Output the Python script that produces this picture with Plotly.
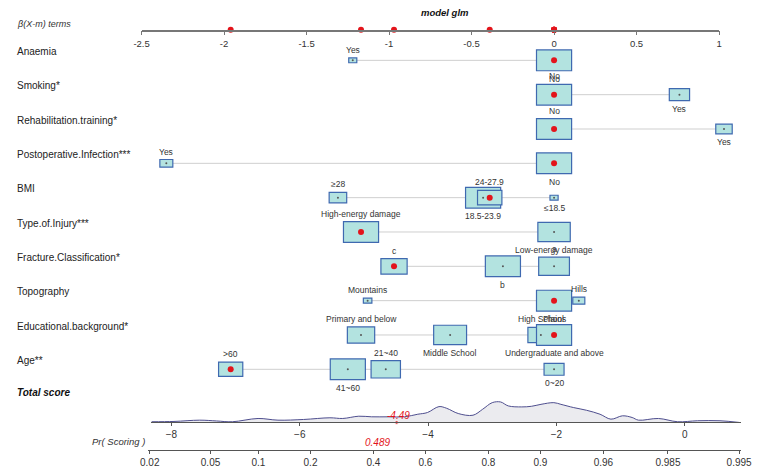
import numpy as np
import plotly.graph_objects as go

# ---- data ----
variables = ["Anaemia", "Smoking*", "Rehabilitation.training*", "Postoperative.Infection***",
             "BMI", "Type.of.Injury***", "Fracture.Classification*", "Topography",
             "Educational.background*", "Age**"]

anaemia_levels = ["Yes", "No"]
anaemia_beta = [-1.22, 0.0]
anaemia_freq = [0.05, 0.95]

smoking_levels = ["No", "Yes"]
smoking_beta = [0.0, 0.76]
smoking_freq = [0.75, 0.25]

rehab_levels = ["No", "Yes"]
rehab_beta = [0.0, 1.03]
rehab_freq = [0.82, 0.18]

infection_levels = ["Yes", "No"]
infection_beta = [-2.35, 0.0]
infection_freq = [0.12, 0.88]

bmi_levels = ["≥28", "18.5-23.9", "24-27.9", "≤18.5"]
bmi_beta = [-1.31, -0.43, -0.39, 0.0]
bmi_freq = [0.14, 0.56, 0.27, 0.03]

injury_levels = ["High-energy damage", "Low-energy damage"]
injury_beta = [-1.17, 0.0]
injury_freq = [0.54, 0.46]

fracture_levels = ["c", "b", "a"]
fracture_beta = [-0.97, -0.31, 0.0]
fracture_freq = [0.24, 0.43, 0.33]

topo_levels = ["Mountains", "Plains", "Hills"]
topo_beta = [-1.13, 0.0, 0.15]
topo_freq = [0.05, 0.85, 0.10]

edu_levels = ["Primary and below", "Middle School", "High School", "Undergraduate and above"]
edu_beta = [-1.17, -0.63, -0.08, 0.0]
edu_freq = [0.20, 0.29, 0.18, 0.33]

age_levels = [">60", "41~60", "21~40", "0~20"]
age_beta = [-1.96, -1.25, -1.02, 0.0]
age_freq = [0.19, 0.40, 0.28, 0.13]

# observation highlighted in red
observed = ["No", "No", "No", "No", "24-27.9", "High-energy damage", "c", "Plains",
            "Undergraduate and above", ">60"]
intercept = 4.446

beta_ticks = [-2.5, -2, -1.5, -1, -0.5, 0, 0.5, 1]
score_ticks = [-8, -6, -4, -2, 0]
prob_ticks = [0.02, 0.05, 0.1, 0.2, 0.4, 0.6, 0.8, 0.9, 0.96, 0.985, 0.995]

density_score = [-8.31, -7.96, -7.56, -7.3, -7.05, -6.65, -6.34, -5.94, -5.53, -5.33, -5.08,
                 -4.88, -4.62, -4.37, -4.16, -4.01, -3.83, -3.71, -3.53, -3.3, -3.15, -3.0,
                 -2.87, -2.75, -2.54, -2.39, -2.24, -2.04, -1.93, -1.73, -1.53, -1.32, -1.15,
                 -0.97, -0.82, -0.72, -0.41, -0.11, 0.2, 0.55, 0.85]
density_value = [0.7, 1.0, 2.3, 1.5, 0.7, 4.0, 2.3, 3.0, 4.7, 4.0, 6.3,
                 5.7, 5.7, 5.7, 8.3, 10.0, 16.0, 14.3, 9.0, 7.3, 13.3, 20.0,
                 20.7, 16.7, 15.7, 16.3, 18.3, 20.0, 18.3, 15.0, 12.3, 8.3, 3.3,
                 6.7, 5.0, 2.3, 4.0, 0.7, 1.7, 1.7, 0.0]

rows = [(anaemia_levels, anaemia_beta, anaemia_freq),
        (smoking_levels, smoking_beta, smoking_freq),
        (rehab_levels, rehab_beta, rehab_freq),
        (infection_levels, infection_beta, infection_freq),
        (bmi_levels, bmi_beta, bmi_freq),
        (injury_levels, injury_beta, injury_freq),
        (fracture_levels, fracture_beta, fracture_freq),
        (topo_levels, topo_beta, topo_freq),
        (edu_levels, edu_beta, edu_freq),
        (age_levels, age_beta, age_freq)]

# ---- layout constants (pixels) ----
W, H = 763, 468
FONT = "Liberation Sans, Arial, sans-serif"
NARROW = "Liberation Sans Narrow, Arial Narrow, Liberation Sans, sans-serif"
RED = "#e3141b"
beta0_px, px_per_beta = 560, 169.2
row_y0, row_gap = 61, 34.7
top_axis_y = 30
score_axis_y, prob_axis_y = 427, 455
score_px = (147, 752)
prob_px = (144, 752)
score0_px, px_per_score = 694, 65.8
box_w, box_h = 36, 21

fig = go.Figure()
shapes = []
annotations = []

obs_betas = []
for i, (levels, betas, freqs) in enumerate(rows):
    y = row_y0 + i * row_gap
    fmax = max(freqs)
    shapes.append(dict(type="line", xref="x", yref="y", x0=min(betas), x1=max(betas), y0=y, y1=y,
                       line=dict(color="#cfcfcf", width=1), layer="below"))
    order = np.argsort(betas, kind="stable")
    for k, j in enumerate(order):
        s = np.sqrt(freqs[j] / fmax)
        hw = box_w * s / 2 / px_per_beta
        hh = box_h * s / 2
        shapes.append(dict(type="rect", xref="x", yref="y", x0=betas[j] - hw, x1=betas[j] + hw,
                           y0=y - hh, y1=y + hh, fillcolor="#b3e3e0",
                           line=dict(color="#3f69b0", width=1.2), layer="below"))
        above = (k % 2 == 0)
        annotations.append(dict(x=betas[j], y=(y - hh - 1) if above else (y + hh + 1),
                                xref="x", yref="y", text=levels[j], showarrow=False,
                                yanchor="bottom" if above else "top",
                                font=dict(size=8.5, color="#333333", family=FONT)))
    fig.add_trace(go.Scatter(x=betas, y=[y] * len(betas), mode="markers",
                             marker=dict(size=2, color="#555555"), xaxis="x", yaxis="y",
                             hoverinfo="skip", showlegend=False))
    ob = betas[levels.index(observed[i])]
    obs_betas.append(ob)
    fig.add_trace(go.Scatter(x=[ob], y=[y], mode="markers",
                             marker=dict(size=6, color=RED), xaxis="x", yaxis="y",
                             hoverinfo="skip", showlegend=False))
    annotations.append(dict(x=7 / W, y=y - 9, xref="paper", yref="y", text=variables[i],
                            showarrow=False, xanchor="left",
                            font=dict(size=10, color="#222222", family=FONT)))

# red dots on the beta axis
fig.add_trace(go.Scatter(x=obs_betas, y=[0] * len(obs_betas), mode="markers", cliponaxis=False,
                         marker=dict(size=6, color=RED), xaxis="x2", yaxis="y3",
                         hoverinfo="skip", showlegend=False))

# density of total score
fig.add_trace(go.Scatter(x=density_score, y=density_value, mode="lines", fill="tozeroy",
                         fillcolor="#ebebef", line=dict(color="#4e4e8e", width=1, shape="spline"),
                         xaxis="x3", yaxis="y2", hoverinfo="skip", showlegend=False))

total = float(np.sum(obs_betas))
prob = 1 / (1 + np.exp(-(total + intercept)))

arrow_end = -(prob_axis_y - 6 - score_axis_y)
fig.add_trace(go.Scatter(x=[total, total], y=[0, arrow_end], mode="lines", cliponaxis=False,
                         line=dict(color=RED, width=1.2), xaxis="x3", yaxis="y2",
                         hoverinfo="skip", showlegend=False))
fig.add_trace(go.Scatter(x=[total, total], y=[0, arrow_end], mode="markers", cliponaxis=False,
                         marker=dict(size=[4, 7], symbol=["circle", "triangle-down"], color=RED),
                         xaxis="x3", yaxis="y2", hoverinfo="skip", showlegend=False))
# invisible trace carrying the probability axis
fig.add_trace(go.Scatter(x=[score_ticks[0]], y=[0], mode="markers", opacity=0,
                         xaxis="x4", yaxis="y4", hoverinfo="skip", showlegend=False))

annotations.append(dict(x=total, y=score_axis_y - 7, xref="x3", yref="y", text=f"<i>{total:.2f}</i>",
                        showarrow=False, xshift=2, font=dict(size=10, color=RED, family=NARROW)))
annotations.append(dict(x=total, y=prob_axis_y - 8, xref="x3", yref="y", text=f"<i>{prob:.3f}</i>",
                        showarrow=False, xanchor="right", xshift=-5,
                        font=dict(size=10, color=RED, family=NARROW)))
annotations.append(dict(x=7 / W, y=397, xref="paper", yref="y", text="<b><i>Total score</i></b>",
                        showarrow=False, xanchor="left", font=dict(size=10, color="#111111", family=FONT)))
annotations.append(dict(x=143 / W, y=prob_axis_y - 9, xref="paper", yref="y", text="<i>Pr( Scoring )</i>",
                        showarrow=False, xanchor="right", font=dict(size=9.5, color="#333333", family=NARROW)))
annotations.append(dict(x=7 / W, y=24, xref="paper", yref="y", text="<i>β(X-m) terms</i>",
                        showarrow=False, xanchor="left", font=dict(size=9, color="#333333", family=FONT)))
annotations.append(dict(x=448 / W, y=13, xref="paper", yref="y", text="<b><i>model glm</i></b>",
                        showarrow=False, font=dict(size=9.5, color="#111111", family=FONT)))

topfont = dict(size=9.5, color="#333333", family=FONT)
tickfont = dict(size=10, color="#333333", family=NARROW)
beta_full = [(0 - beta0_px) / px_per_beta, (W - beta0_px) / px_per_beta]
beta_dom = [(beta0_px + beta_ticks[0] * px_per_beta) / W, (beta0_px + beta_ticks[-1] * px_per_beta) / W]
score_rng = [(score_px[0] - score0_px) / px_per_score, (score_px[1] - score0_px) / px_per_score]
score_dom = [score_px[0] / W, score_px[1] / W]
prob_rng = [(prob_px[0] - score0_px) / px_per_score, (prob_px[1] - score0_px) / px_per_score]
prob_dom = [prob_px[0] / W, prob_px[1] / W]
prob_vals = [float(np.log(p / (1 - p)) - intercept) for p in prob_ticks]


def ydom(px_bottom, height):
    return [1 - px_bottom / H, 1 - (px_bottom - height) / H]


fig.update_layout(
    width=W, height=H, margin=dict(l=0, r=0, t=0, b=0),
    paper_bgcolor="white", plot_bgcolor="white", showlegend=False,
    shapes=shapes, annotations=annotations,
    xaxis=dict(range=beta_full, domain=[0, 1], visible=False, fixedrange=True),
    yaxis=dict(range=[H, 0], domain=[0, 1], visible=False, fixedrange=True),
    xaxis2=dict(range=[beta_ticks[0], beta_ticks[-1]], domain=beta_dom, anchor="y3",
                showline=True, linecolor="#777777", linewidth=1.5, ticks="outside", ticklen=4,
                tickcolor="#777777", tickvals=beta_ticks, ticktext=[f"{t:g}" for t in beta_ticks],
                tickfont=topfont, showgrid=False, zeroline=False, fixedrange=True),
    yaxis3=dict(range=[0, 10], domain=ydom(top_axis_y, 10), anchor="x2", visible=False,
                fixedrange=True),
    xaxis3=dict(range=score_rng, domain=score_dom, anchor="y2", showline=True,
                linecolor="#555555", linewidth=1, ticks="outside", ticklen=3, tickcolor="#555555",
                tickvals=score_ticks, tickfont=tickfont, showgrid=False, zeroline=False,
                fixedrange=True),
    yaxis2=dict(range=[0, 32], domain=ydom(score_axis_y, 32), anchor="x3", visible=False,
                fixedrange=True),
    xaxis4=dict(range=prob_rng, domain=prob_dom, anchor="y4", showline=True,
                linecolor="#555555", linewidth=1, ticks="outside", ticklen=3, tickcolor="#555555",
                tickvals=prob_vals, ticktext=[f"{p:g}" for p in prob_ticks], tickfont=tickfont,
                showgrid=False, zeroline=False, fixedrange=True),
    yaxis4=dict(range=[0, 5], domain=ydom(prob_axis_y, 5), anchor="x4", visible=False,
                fixedrange=True),
)

# page margin off so the 763x468 figure fills the window exactly
fig.write_html("out.html", config={"displayModeBar": False},
               post_script="document.body.style.margin='0';document.body.style.overflow='hidden';")
